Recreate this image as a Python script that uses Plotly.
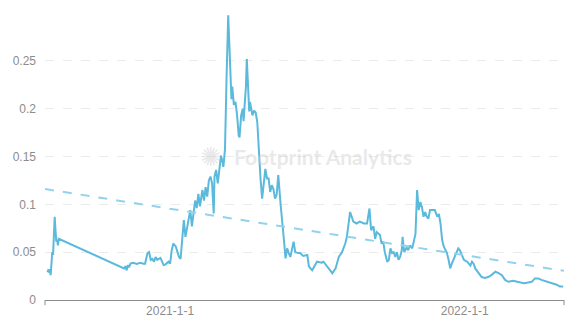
import plotly.graph_objects as go
import pandas as pd

# day offsets relative to 2021-01-01 and the price values
day_offsets = [
    -152, -151, -150, -149, -148, -147, -146, -145, -144, -143, -142, -141, -140, -139, -138,
    -57, -55, -54, -52, -51, -49, -46, -41, -37, -33, -31, -28, -26, -24, -22, -20, -18, -16, -12, -8, -6, -2,
    0, 2, 4, 7, 9, 11, 13, 15, 17, 19, 21, 23, 25, 27, 29, 31, 33, 35, 37, 40, 42, 44, 46, 48, 50, 52, 54, 55,
    57, 59, 61, 63, 65, 66, 68, 69, 70, 72, 73, 74, 76, 77, 79, 81, 83, 85, 86, 88, 90, 91, 92, 94, 95, 97, 98,
    99, 102, 104, 106, 108, 110, 112, 114, 116, 118, 120, 122, 124, 126, 128, 130, 132, 134, 137, 139, 141, 143,
    145, 147, 149, 153, 155, 159, 161, 165, 170, 172, 176, 182, 188, 190, 194, 201, 205, 209, 213, 217, 219, 223,
    225, 227, 231, 235, 240, 244, 247, 249, 252, 254, 256, 260, 262, 264, 266, 269, 271, 273, 275, 277, 279, 281,
    283, 285, 287, 288, 290, 293, 295, 297, 300, 302, 304, 306, 308, 310, 312, 314, 316, 318, 320, 322, 326, 328,
    331, 333, 335, 337, 339, 341, 343, 345, 347, 349, 351, 353, 355, 357, 359, 362, 364, 368, 372, 374, 376, 378,
    382, 386, 390, 394, 398, 403, 407, 411, 415, 419, 425, 432, 438, 442, 448, 452, 456, 460, 467, 473, 479, 483, 487,
]
price = [
    0.029, 0.031, 0.030, 0.032, 0.026, 0.036, 0.050, 0.047, 0.063, 0.087, 0.073, 0.061, 0.063, 0.057, 0.064,
    0.033, 0.0355, 0.031, 0.0365, 0.034, 0.038, 0.039, 0.0376, 0.039, 0.038, 0.038, 0.049, 0.050, 0.042, 0.043, 0.040, 0.045, 0.042, 0.044, 0.0365, 0.037, 0.040,
    0.038, 0.052, 0.059, 0.056, 0.049, 0.045, 0.043, 0.063, 0.0835, 0.066, 0.0765, 0.087, 0.094, 0.077, 0.0905, 0.104, 0.096, 0.111, 0.098, 0.115, 0.104, 0.118, 0.108, 0.125, 0.129, 0.122, 0.0905, 0.129,
    0.136, 0.122, 0.136, 0.151, 0.144, 0.139, 0.158, 0.204, 0.235, 0.2975, 0.273, 0.238, 0.210, 0.223, 0.204, 0.207, 0.193, 0.172, 0.170, 0.193, 0.200, 0.187, 0.197, 0.224, 0.252, 0.224, 0.197,
    0.207, 0.193, 0.198, 0.196, 0.186, 0.148, 0.127, 0.106, 0.120, 0.137, 0.127, 0.127, 0.113, 0.120, 0.116, 0.106, 0.110, 0.1305, 0.099, 0.0765, 0.063, 0.0435,
    0.054, 0.049, 0.045, 0.061, 0.050, 0.049, 0.049, 0.046, 0.047, 0.035, 0.031, 0.040, 0.039, 0.040, 0.036, 0.028, 0.033, 0.045, 0.050, 0.059, 0.066, 0.092,
    0.087, 0.082, 0.080, 0.082, 0.080, 0.080, 0.0957, 0.073, 0.077, 0.064, 0.071, 0.068, 0.059, 0.061, 0.050, 0.040, 0.042, 0.054, 0.049, 0.050, 0.045, 0.050,
    0.042, 0.045, 0.052, 0.066, 0.050, 0.055, 0.052, 0.057, 0.054, 0.063, 0.069, 0.115, 0.094, 0.1025, 0.097, 0.087, 0.092, 0.087, 0.085, 0.094, 0.094, 0.094,
    0.087, 0.090, 0.080, 0.063, 0.056, 0.052, 0.049, 0.042, 0.033, 0.038, 0.042, 0.045, 0.050, 0.054, 0.052, 0.045, 0.042, 0.040, 0.036, 0.040, 0.038, 0.033,
    0.028, 0.024, 0.023, 0.024, 0.026, 0.0295, 0.028, 0.026, 0.021, 0.019, 0.020, 0.019, 0.0175, 0.018, 0.019, 0.0226, 0.0226, 0.021, 0.019, 0.0175, 0.016, 0.014, 0.014,
]
base_date = "2021-01-01"
axis_dates = ["2020-07-30", "2022-05-04"]
trend_values = [0.116, 0.0305]
tick_dates = ["2021-01-01", "2022-01-01"]
tick_labels = ["2021-1-1", "2022-1-1"]
y_ticks = [0, 0.05, 0.1, 0.15, 0.2, 0.25]
y_tick_labels = ["0", "0.05", "0.1", "0.15", "0.2", "0.25"]

dates = pd.Timestamp(base_date) + pd.to_timedelta(day_offsets, unit="D")

fig = go.Figure()
fig.add_trace(go.Scatter(
    x=dates, y=price, mode="lines",
    line=dict(color="#5bb9dc", width=2),
    hoverinfo="skip", showlegend=False,
))
fig.add_trace(go.Scatter(
    x=axis_dates, y=trend_values, mode="lines",
    line=dict(color="#93d2ec", width=2, dash="dash"),
    hoverinfo="skip", showlegend=False,
))

fig.add_annotation(
    text="<b>Footprint Analytics</b>", xref="paper", yref="paper",
    x=0.535, y=0.5, showarrow=False,
    font=dict(family="Lato, Open Sans, sans-serif", size=21, color="rgba(205,205,205,0.45)"),
)
fig.add_annotation(
    text="✺", xref="paper", yref="paper",
    x=0.295, y=0.5, showarrow=False,
    font=dict(family="DejaVu Sans", size=26, color="rgba(205,205,205,0.45)"),
)

# axis end ticks
for xp in (0, 1):
    fig.add_shape(type="line", xref="paper", yref="paper", x0=xp, x1=xp, y0=0, y1=-0.018,
                  line=dict(color="#8c8c8c", width=1))

# the page body adds an 8px offset, so margins are compensated
fig.update_layout(
    width=585, height=329,
    margin=dict(l=37, r=29, t=5, b=37),
    paper_bgcolor="white", plot_bgcolor="white",
    font=dict(family="Liberation Sans, Arial, sans-serif", size=12, color="#8c8c8c"),
    xaxis=dict(
        range=axis_dates, tickvals=tick_dates, ticktext=tick_labels,
        showgrid=False, showline=True, linecolor="#8c8c8c", linewidth=1,
        ticks="", zeroline=False, tickfont=dict(size=12, color="#8c8c8c"),
    ),
    yaxis=dict(
        range=[0, 0.3], tickvals=y_ticks, ticktext=y_tick_labels,
        showgrid=True, gridcolor="#ebebeb", griddash="dash", gridwidth=1,
        zeroline=False, showline=False, ticks="", ticklabelstandoff=8,
        tickfont=dict(size=12, color="#8c8c8c"),
    ),
)

fig.write_html("out.html")
